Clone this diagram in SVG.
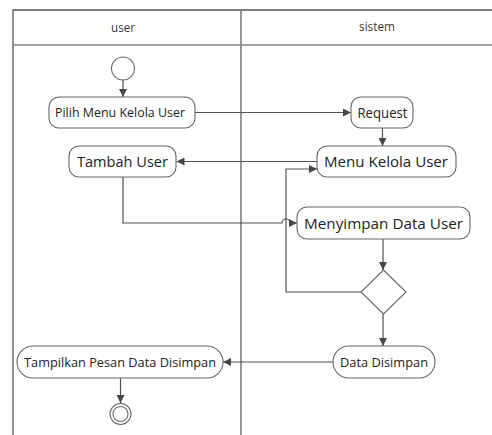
<svg xmlns="http://www.w3.org/2000/svg" width="492" height="435" viewBox="0 0 492 435">
  <style>
    .lane { stroke: #555555; stroke-width: 1.3; fill: none; }
    .divider { stroke: #858585; stroke-width: 1.7; fill: none; }
    .act { fill: #ffffff; stroke: #666666; stroke-width: 1.1; }
    .flow { stroke: #505050; stroke-width: 1.2; fill: none; }
    .lbl { font-family: "Open Sans", "Noto Sans", sans-serif; fill: #222222; text-anchor: middle; }
    .sm { font-size: 12.5px; }
    .lg { font-size: 15px; }
    .hdr { font-family: "Open Sans", "Noto Sans", sans-serif; font-size: 12px; fill: #3a3a3a; text-anchor: middle; }
  </style>
  <defs>
    <marker id="arrow" markerUnits="userSpaceOnUse" markerWidth="9" markerHeight="8" refX="8" refY="4" orient="auto">
      <path d="M0,0 L8,4 L0,8 Z" fill="#474747"/>
    </marker>
  </defs>

  <rect width="492" height="435" fill="#ffffff"/>

  <!-- swimlanes -->
  <g id="lanes">
    <path class="lane" d="M13,435 V10 H492"/>
    <path class="divider" d="M13,45 H492"/>
    <path class="divider" d="M241,10 V435"/>
    <text class="hdr" x="123" y="32" textLength="24" lengthAdjust="spacingAndGlyphs">user</text>
    <text class="hdr" x="377" y="31" textLength="36" lengthAdjust="spacingAndGlyphs">sistem</text>
  </g>

  <!-- connectors -->
  <g id="connectors">
    <path class="flow" d="M123,80 V97" marker-end="url(#arrow)"/>
    <path class="flow" d="M195,112.5 H351" marker-end="url(#arrow)"/>
    <path class="flow" d="M382.5,128 V146" marker-end="url(#arrow)"/>
    <path class="flow" d="M317,161.5 H176.5" marker-end="url(#arrow)"/>
    <path class="flow" d="M123,177 V223 H282 a4,4 0 0 1 8,0 H297" marker-end="url(#arrow)"/>
    <path class="flow" d="M383,239 V270" marker-end="url(#arrow)"/>
    <path class="flow" d="M361,292 H286 V169 H317" marker-end="url(#arrow)"/>
    <path class="flow" d="M383,314 V346" marker-end="url(#arrow)"/>
    <path class="flow" d="M333,362 H223" marker-end="url(#arrow)"/>
    <path class="flow" d="M120.5,378 V403" marker-end="url(#arrow)"/>
  </g>

  <!-- start -->
  <g id="start">
    <circle cx="123" cy="68.5" r="11.5" fill="#ffffff" stroke="#666666" stroke-width="1.1"/>
  </g>

  <g id="pilih-menu">
    <rect class="act" x="49" y="97" width="146" height="31" rx="10"/>
    <text class="lbl sm" x="120" y="117" textLength="130" lengthAdjust="spacingAndGlyphs">Pilih Menu Kelola User</text>
  </g>

  <g id="request">
    <rect class="act" x="351" y="97" width="62" height="31" rx="10"/>
    <text class="lbl lg" x="382.5" y="118" textLength="50" lengthAdjust="spacingAndGlyphs">Request</text>
  </g>

  <g id="menu-kelola">
    <rect class="act" x="317" y="146" width="139" height="31" rx="10"/>
    <text class="lbl lg" x="386" y="167" textLength="124" lengthAdjust="spacingAndGlyphs">Menu Kelola User</text>
  </g>

  <g id="tambah-user">
    <rect class="act" x="69" y="146" width="107" height="31" rx="10"/>
    <text class="lbl lg" x="122.5" y="167" textLength="91" lengthAdjust="spacingAndGlyphs">Tambah User</text>
  </g>

  <g id="menyimpan">
    <rect class="act" x="297" y="207" width="173" height="32" rx="10"/>
    <text class="lbl lg" x="383.5" y="228.5" textLength="159" lengthAdjust="spacingAndGlyphs">Menyimpan Data User</text>
  </g>

  <g id="decision">
    <path class="act" d="M383.5,270 L406,292 L383.5,314 L361,292 Z"/>
  </g>

  <g id="data-disimpan">
    <rect class="act" x="333" y="346" width="102" height="32" rx="16"/>
    <text class="lbl sm" x="384" y="366.5" textLength="88" lengthAdjust="spacingAndGlyphs">Data Disimpan</text>
  </g>

  <g id="tampilkan">
    <rect class="act" x="17" y="346" width="206" height="32" rx="16"/>
    <text class="lbl sm" x="120" y="366.5" textLength="192" lengthAdjust="spacingAndGlyphs">Tampilkan Pesan Data Disimpan</text>
  </g>

  <!-- end -->
  <g id="end">
    <circle cx="120.5" cy="414" r="10.5" fill="#ffffff" stroke="#666666" stroke-width="1.1"/>
    <circle cx="120.5" cy="414" r="7.5" fill="#ffffff" stroke="#666666" stroke-width="1.1"/>
  </g>
</svg>
